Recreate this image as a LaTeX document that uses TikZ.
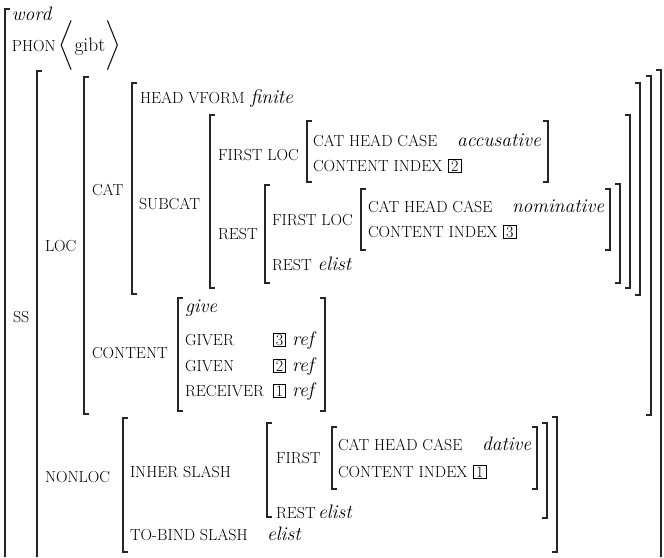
\documentclass[tikz,border=0pt]{standalone}
\usepackage{amsmath}
\newcommand\fsz{\fontsize{19.5}{21}\selectfont}
\newcommand\SC[1]{{\fontsize{16}{18}\selectfont #1}}
\newcommand\tagbox[1]{{\setlength\fboxsep{1.2pt}\setlength\fboxrule{0.7pt}\fbox{\fontsize{16}{16}\selectfont\hspace{1pt}#1\hspace{1pt}}}}
\newcommand\lbrk[3]{\draw[brk] (#1+5,#2) -- (#1,#2) -- (#1,#3) -- (#1+5,#3);}
\newcommand\rbrk[3]{\draw[brk] (#1-5,#2) -- (#1,#2) -- (#1,#3) -- (#1-5,#3);}
\tikzset{
  brk/.style={line width=1.2pt, line join=miter, black!85},
  txt/.style={anchor=base west, inner sep=0pt, outer sep=0pt, font=\fsz},
}
\begin{document}
\begin{tikzpicture}[x=1pt,y=-1pt]
\useasboundingbox (0,0) rectangle (664,557);
% brackets
\draw[brk] (10,9) -- (5,9) -- (5,557);
\draw[brk] (42,71) -- (37,71) -- (37,557);
\draw[brk] (656,70) -- (661,70) -- (661,557);
\lbrk{84}{77}{414}
\rbrk{651}{76}{415}
\lbrk{132}{83}{294}
\rbrk{640}{83}{295}
\lbrk{210}{115}{288}
\rbrk{630}{115}{288}
\lbrk{307}{121}{182}
\rbrk{548}{121}{182}
\lbrk{265}{185}{283}
\rbrk{620}{184}{283}
\lbrk{361}{189}{250}
\rbrk{610}{189}{250}
\lbrk{178}{298}{411}
\rbrk{325}{298}{411}
\lbrk{123}{418}{552}
\rbrk{557}{417}{552}
\lbrk{267}{423}{517}
\rbrk{547}{423}{518}
\lbrk{332}{427}{489}
\rbrk{537}{427}{489}
% texts
\node[txt] (word) at (12,20) {\itshape word};
\node[txt] (phon) at (12,51) {\SC{PHON}\,$\bigg\langle$gibt$\bigg\rangle$};
\node[txt] (ss) at (13,322) {\SC{SS}};
\node[txt] (loc) at (45,251) {\SC{LOC}};
\node[txt] (cat) at (92,195) {\SC{CAT}};
\node[txt] (head) at (140,103) {\SC{HEAD VFORM} \textit{finite}};
\node[txt] (subcat) at (139,209) {\SC{SUBCAT}};
\node[txt] (first1) at (218,160) {\SC{FIRST LOC}};
\node[txt] (chc1) at (313,146) {\SC{CAT HEAD CASE}};
\node[txt] (acc) at (457,146) {\itshape accusative};
\node[txt] (ci2) at (313,171) {\SC{CONTENT INDEX} \tagbox{2}};
\node[txt] (rest1) at (218,239) {\SC{REST}};
\node[txt] (first2) at (272,225) {\SC{FIRST LOC}};
\node[txt] (chc2) at (368,212) {\SC{CAT HEAD CASE}};
\node[txt] (nom) at (512,212) {\itshape nominative};
\node[txt] (ci3) at (368,237) {\SC{CONTENT INDEX} \tagbox{3}};
\node[txt] (rest2) at (272,270) {\SC{REST} \textit{elist}};
\node[txt] (content) at (92,358) {\SC{CONTENT}};
\node[txt] (give) at (185,312) {\itshape give};
\node[txt] (giver) at (185,345) {\SC{GIVER}};
\node[txt] (given) at (185,371) {\SC{GIVEN}};
\node[txt] (receiver) at (185,396) {\SC{RECEIVER}};
\node[txt] (t3) at (273,345) {\tagbox{3} \textit{ref}};
\node[txt] (t2) at (273,371) {\tagbox{2} \textit{ref}};
\node[txt] (t1) at (273,396) {\tagbox{1} \textit{ref}};
\node[txt] (nonloc) at (45,482) {\SC{NONLOC}};
\node[txt] (inher) at (130,477) {\SC{INHER SLASH}};
\node[txt] (first3) at (276,463) {\SC{FIRST}};
\node[txt] (chc3) at (338,450) {\SC{CAT HEAD CASE}};
\node[txt] (dat) at (482,450) {\itshape dative};
\node[txt] (ci1) at (338,477) {\SC{CONTENT INDEX} \tagbox{1}};
\node[txt] (rest3) at (276,518) {\SC{REST}};
\node[txt] (elist3) at (318,518) {\itshape elist};
\node[txt] (tobind) at (130,540) {\SC{TO-BIND SLASH}};
\node[txt] (elist4) at (267,540) {\itshape elist};
\end{tikzpicture}
\end{document}
